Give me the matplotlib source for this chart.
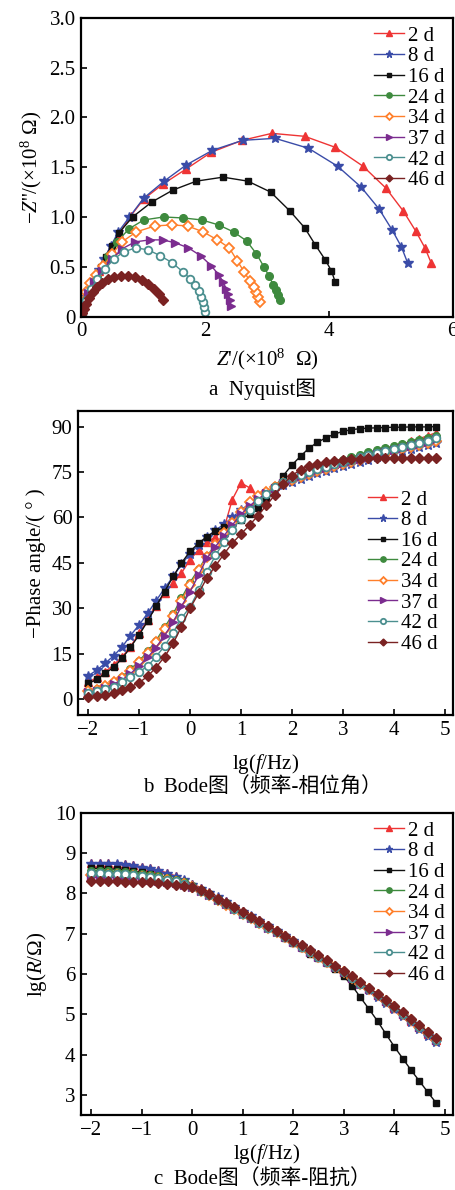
import matplotlib
matplotlib.use("Agg")
import matplotlib.pyplot as plt

plt.rcParams["font.family"] = ["Liberation Serif", "Noto Sans CJK SC"]
plt.rcParams["mathtext.fontset"] = "custom"
plt.rcParams["mathtext.rm"] = "Liberation Serif"
plt.rcParams["mathtext.it"] = "Liberation Serif:italic"
plt.rcParams["font.size"] = 15
plt.rcParams["axes.linewidth"] = 1.6

# 图例名称
labels = ["2 d", "8 d", "16 d", "24 d", "34 d", "37 d", "42 d", "46 d"]
colors = ["#ee3434", "#3a4ca8", "#111111", "#3e8a3e", "#ff7f2a", "#7b2c8f", "#4b8f8f", "#7a2222"]
markers = ["^", "*", "s", "o", "D", ">", "o", "D"]
open_face = [False, False, False, False, True, False, True, False]
msizes = [6, 7.5, 5, 5.5, 5, 6, 5.5, 5]

# ---- Nyquist 数据 (×10^8 Ω) ----
zre_2 = [5.65, 5.55, 5.40, 5.20, 4.92, 4.55, 4.10, 3.61, 3.08, 2.60, 2.10, 1.69, 1.32, 1.01, 0.80, 0.61, 0.48, 0.37, 0.28, 0.20, 0.14, 0.09, 0.05, 0.02, 0.005]
zim_2 = [0.54, 0.69, 0.86, 1.06, 1.29, 1.51, 1.70, 1.81, 1.84, 1.77, 1.65, 1.48, 1.33, 1.18, 1.01, 0.83, 0.69, 0.57, 0.46, 0.37, 0.28, 0.20, 0.12, 0.06, 0.02]
zre_8 = [5.27, 5.17, 5.02, 4.81, 4.52, 4.14, 3.67, 3.13, 2.61, 2.12, 1.69, 1.34, 1.01, 0.78, 0.60, 0.48, 0.37, 0.28, 0.20, 0.14, 0.09, 0.05, 0.02, 0.005]
zim_8 = [0.54, 0.70, 0.87, 1.08, 1.30, 1.51, 1.69, 1.79, 1.77, 1.67, 1.52, 1.36, 1.19, 1.00, 0.85, 0.71, 0.58, 0.47, 0.37, 0.28, 0.20, 0.12, 0.06, 0.02]
zre_16 = [4.10, 4.04, 3.94, 3.78, 3.61, 3.37, 3.06, 2.69, 2.29, 1.86, 1.48, 1.14, 0.83, 0.61, 0.49, 0.40, 0.32, 0.25, 0.18, 0.12, 0.08, 0.04, 0.02, 0.005]
zim_16 = [0.35, 0.46, 0.57, 0.72, 0.89, 1.06, 1.25, 1.36, 1.40, 1.36, 1.27, 1.15, 1.00, 0.84, 0.71, 0.60, 0.50, 0.41, 0.32, 0.24, 0.17, 0.10, 0.05, 0.02]
zre_24 = [3.21, 3.17, 3.14, 3.10, 3.03, 2.95, 2.83, 2.67, 2.46, 2.22, 1.95, 1.65, 1.33, 1.01, 0.77, 0.58, 0.44, 0.34, 0.25, 0.18, 0.12, 0.07, 0.03, 0.01]
zim_24 = [0.17, 0.22, 0.27, 0.32, 0.41, 0.50, 0.63, 0.76, 0.85, 0.92, 0.97, 0.99, 1.00, 0.97, 0.88, 0.75, 0.61, 0.50, 0.40, 0.31, 0.22, 0.14, 0.07, 0.02]
zre_34 = [2.88, 2.86, 2.82, 2.79, 2.72, 2.63, 2.52, 2.39, 2.20, 1.97, 1.72, 1.46, 1.19, 0.89, 0.66, 0.50, 0.36, 0.24, 0.14, 0.08, 0.04, 0.02, 0.005]
zim_34 = [0.15, 0.20, 0.25, 0.30, 0.36, 0.45, 0.56, 0.69, 0.77, 0.85, 0.91, 0.92, 0.91, 0.85, 0.75, 0.63, 0.51, 0.42, 0.34, 0.25, 0.16, 0.08, 0.02]
zre_37 = [2.42, 2.40, 2.37, 2.34, 2.29, 2.22, 2.10, 1.93, 1.73, 1.52, 1.32, 1.11, 0.87, 0.66, 0.50, 0.34, 0.20, 0.11, 0.05, 0.02, 0.005]
zim_37 = [0.11, 0.17, 0.23, 0.28, 0.35, 0.42, 0.51, 0.61, 0.69, 0.74, 0.77, 0.77, 0.75, 0.68, 0.58, 0.46, 0.35, 0.24, 0.14, 0.06, 0.02]
zre_42 = [2.00, 1.99, 1.97, 1.94, 1.90, 1.84, 1.76, 1.64, 1.47, 1.28, 1.08, 0.88, 0.69, 0.53, 0.39, 0.26, 0.16, 0.08, 0.03, 0.01]
zim_42 = [0.05, 0.10, 0.15, 0.20, 0.26, 0.32, 0.38, 0.45, 0.54, 0.61, 0.67, 0.69, 0.65, 0.58, 0.48, 0.38, 0.28, 0.17, 0.08, 0.02]
zre_46 = [1.32, 1.25, 1.17, 1.08, 0.98, 0.87, 0.75, 0.64, 0.53, 0.43, 0.34, 0.26, 0.19, 0.13, 0.08, 0.04, 0.015, 0.003]
zim_46 = [0.17, 0.23, 0.28, 0.33, 0.37, 0.40, 0.41, 0.41, 0.40, 0.38, 0.34, 0.30, 0.25, 0.19, 0.13, 0.08, 0.04, 0.01]

# ---- Bode 频率 lg(f/Hz) ----
lgf = [-2.00, -1.83, -1.67, -1.50, -1.33, -1.17, -1.00, -0.83, -0.67, -0.50, -0.33, -0.17,
       0.00, 0.17, 0.33, 0.50, 0.67, 0.83, 1.00, 1.17, 1.33, 1.50, 1.67, 1.83,
       2.00, 2.17, 2.33, 2.50, 2.67, 2.83, 3.00, 3.17, 3.33, 3.50, 3.67, 3.83,
       4.00, 4.17, 4.33, 4.50, 4.67, 4.83]

# 相位角
ph_2 = [5.5, 7.2, 9.0, 11.3, 14.0, 17.3, 21.7, 26.2, 30.6, 35.0, 38.3, 41.6, 46.0, 49.3, 52.0, 53.5, 56.5, 65.9, 71.4, 69.8, 66.5, 68.5, 70.5, 72.0,
        73.3, 74.3, 75.3, 76.2, 77.0, 77.8, 78.5, 79.2, 80.0, 80.8, 81.6, 82.4, 83.3, 84.2, 85.1, 86.0, 87.0, 88.0]
ph_8 = [7.7, 9.6, 11.8, 14.3, 17.3, 21.0, 24.5, 28.4, 32.4, 36.6, 40.5, 44.5, 48.0, 51.0, 53.5, 55.8, 57.8, 60.0, 62.5, 64.5, 66.3, 68.0, 69.5, 70.7,
        71.8, 72.8, 73.7, 74.6, 75.4, 76.2, 77.0, 77.7, 78.4, 79.1, 79.8, 80.5, 81.2, 81.9, 82.6, 83.3, 84.0, 84.7]
ph_16 = [5.2, 6.5, 8.5, 10.5, 13.5, 17.1, 21.2, 25.8, 30.6, 35.5, 40.5, 44.9, 48.8, 51.5, 53.7, 55.4, 56.8, 58.0, 59.3, 61.0, 63.0, 66.3, 70.0, 73.8,
         77.3, 80.2, 82.8, 84.8, 86.3, 87.5, 88.4, 89.0, 89.3, 89.5, 89.6, 89.7, 89.8, 89.8, 89.9, 89.9, 89.9, 90.0]
ph_24 = [2.8, 3.3, 4.5, 5.8, 7.4, 9.8, 12.6, 15.8, 19.3, 23.7, 28.2, 33.3, 38.5, 43.0, 47.2, 51.0, 54.5, 57.8, 61.0, 64.0, 66.5, 68.5, 70.3, 71.8,
         73.2, 74.4, 75.5, 76.5, 77.4, 78.3, 79.1, 79.9, 80.7, 81.5, 82.2, 82.9, 83.6, 84.3, 85.0, 85.7, 86.3, 87.0]
ph_34 = [2.6, 3.1, 4.2, 5.6, 7.1, 9.4, 12.2, 15.3, 18.8, 23.0, 27.5, 32.5, 37.8, 42.5, 47.0, 51.0, 54.7, 58.2, 61.8, 65.0, 67.0, 68.5, 70.0, 71.3,
         72.5, 73.5, 74.4, 75.3, 76.1, 76.9, 77.6, 78.3, 79.0, 79.7, 80.4, 81.1, 81.8, 82.5, 83.2, 83.9, 84.6, 85.3]
ph_37 = [2.2, 2.8, 3.8, 5.0, 6.4, 8.4, 11.0, 13.8, 17.0, 21.0, 25.5, 30.6, 35.5, 41.0, 46.5, 50.4, 54.0, 57.5, 61.0, 63.8, 66.0, 68.0, 69.8, 71.3,
         72.6, 73.7, 74.7, 75.6, 76.4, 77.2, 78.0, 78.7, 79.4, 80.1, 80.8, 81.5, 82.2, 82.9, 83.6, 84.3, 85.0, 85.8]
ph_42 = [2.0, 2.6, 3.2, 4.0, 5.7, 7.4, 9.0, 10.9, 14.0, 17.5, 22.0, 26.7, 30.4, 36.0, 42.0, 47.5, 52.0, 56.0, 59.5, 62.5, 65.3, 67.8, 70.0, 71.7,
         73.0, 74.1, 75.1, 76.0, 76.8, 77.6, 78.4, 79.1, 79.8, 80.5, 81.2, 81.9, 82.6, 83.3, 84.0, 84.7, 85.4, 86.2]
ph_46 = [0.6, 1.0, 1.3, 1.9, 3.0, 4.1, 5.4, 7.6, 10.4, 14.0, 18.4, 23.9, 30.0, 35.0, 40.0, 44.0, 48.0, 51.5, 54.5, 57.5, 60.5, 64.0, 67.5, 71.0,
         73.8, 75.8, 77.0, 77.8, 78.4, 78.8, 79.1, 79.3, 79.4, 79.5, 79.5, 79.5, 79.6, 79.6, 79.6, 79.6, 79.7, 79.7]

# 阻抗 lg(R/Ω)
lz_2 = [8.76, 8.76, 8.75, 8.74, 8.72, 8.70, 8.66, 8.62, 8.57, 8.51, 8.43, 8.34, 8.24, 8.14, 8.03, 7.92, 7.81, 7.69, 7.57, 7.45, 7.33, 7.21, 7.09, 6.97,
        6.84, 6.71, 6.58, 6.45, 6.32, 6.19, 6.05, 5.91, 5.77, 5.62, 5.47, 5.32, 5.16, 5.00, 4.84, 4.68, 4.52, 4.36]
lz_8 = [8.74, 8.74, 8.73, 8.72, 8.70, 8.67, 8.64, 8.60, 8.55, 8.49, 8.41, 8.32, 8.22, 8.12, 8.01, 7.90, 7.79, 7.67, 7.55, 7.43, 7.31, 7.19, 7.07, 6.95,
        6.82, 6.69, 6.56, 6.43, 6.30, 6.17, 6.03, 5.89, 5.74, 5.59, 5.44, 5.28, 5.12, 4.96, 4.80, 4.64, 4.47, 4.30]
lz_16 = [8.62, 8.62, 8.61, 8.60, 8.58, 8.55, 8.52, 8.48, 8.44, 8.39, 8.33, 8.26, 8.18, 8.08, 7.98, 7.87, 7.76, 7.64, 7.52, 7.40, 7.28, 7.16, 7.03, 6.90,
         6.77, 6.64, 6.50, 6.40, 6.26, 6.12, 5.95, 5.70, 5.42, 5.13, 4.83, 4.52, 4.20, 3.90, 3.62, 3.34, 3.06, 2.80]
lz_24 = [8.56, 8.56, 8.55, 8.54, 8.53, 8.51, 8.49, 8.46, 8.42, 8.38, 8.33, 8.27, 8.18, 8.07, 7.96, 7.85, 7.76, 7.63, 7.51, 7.39, 7.28, 7.16, 7.04, 6.92,
         6.80, 6.68, 6.56, 6.43, 6.31, 6.18, 6.05, 5.91, 5.77, 5.63, 5.48, 5.33, 5.18, 5.02, 4.86, 4.70, 4.54, 4.38]
lz_34 = [8.46, 8.46, 8.45, 8.45, 8.44, 8.43, 8.41, 8.39, 8.36, 8.33, 8.29, 8.24, 8.17, 8.06, 7.95, 7.84, 7.72, 7.61, 7.50, 7.38, 7.27, 7.15, 7.03, 6.91,
         6.79, 6.67, 6.55, 6.42, 6.30, 6.17, 6.04, 5.90, 5.76, 5.62, 5.47, 5.32, 5.17, 5.01, 4.85, 4.69, 4.53, 4.37]
lz_37 = [8.40, 8.40, 8.40, 8.39, 8.38, 8.37, 8.36, 8.34, 8.31, 8.28, 8.25, 8.21, 8.16, 8.06, 7.95, 7.84, 7.73, 7.61, 7.50, 7.38, 7.27, 7.15, 7.03, 6.91,
         6.79, 6.67, 6.55, 6.42, 6.30, 6.17, 6.04, 5.90, 5.76, 5.62, 5.47, 5.32, 5.17, 5.01, 4.85, 4.69, 4.53, 4.36]
lz_42 = [8.50, 8.50, 8.49, 8.48, 8.47, 8.45, 8.43, 8.41, 8.38, 8.34, 8.30, 8.24, 8.17, 8.06, 7.95, 7.84, 7.73, 7.61, 7.50, 7.38, 7.27, 7.15, 7.03, 6.91,
         6.79, 6.67, 6.55, 6.42, 6.30, 6.17, 6.04, 5.90, 5.76, 5.62, 5.47, 5.32, 5.17, 5.01, 4.85, 4.69, 4.53, 4.37]
lz_46 = [8.30, 8.30, 8.30, 8.30, 8.29, 8.29, 8.28, 8.27, 8.25, 8.23, 8.21, 8.18, 8.15, 8.08, 7.98, 7.87, 7.76, 7.65, 7.54, 7.42, 7.31, 7.19, 7.07, 6.95,
         6.83, 6.71, 6.59, 6.46, 6.34, 6.21, 6.08, 5.94, 5.80, 5.66, 5.51, 5.36, 5.21, 5.05, 4.89, 4.73, 4.57, 4.40]

nyq_x = [zre_2, zre_8, zre_16, zre_24, zre_34, zre_37, zre_42, zre_46]
nyq_y = [zim_2, zim_8, zim_16, zim_24, zim_34, zim_37, zim_42, zim_46]
phase = [ph_2, ph_8, ph_16, ph_24, ph_34, ph_37, ph_42, ph_46]
lgz = [lz_2, lz_8, lz_16, lz_24, lz_34, lz_37, lz_42, lz_46]


def style(i):
    kw = dict(color=colors[i], marker=markers[i], ms=msizes[i], lw=1.0,
              mec=colors[i], label=labels[i])
    if open_face[i]:
        kw["mfc"] = "white"
        kw["mew"] = 1.3
    else:
        kw["mfc"] = colors[i]
    return kw


def fmt_axes(ax):
    ax.tick_params(direction="in", length=4, width=1.2, top=False, right=False, labelsize=15, pad=4)
    for s in ax.spines.values():
        s.set_linewidth(1.6)


def add_legend(ax, **kw):
    ax.legend(frameon=False, fontsize=15, handlelength=1.4, handletextpad=0.2,
              labelspacing=0.05, markerscale=0.7, borderpad=0.2, **kw)


fig = plt.figure(figsize=(4.56, 11.9), dpi=100)

# a Nyquist
ax1 = fig.add_axes([0.178, 0.734, 0.815, 0.251])
for i in range(8):
    ax1.plot(nyq_x[i], nyq_y[i], **style(i))
ax1.set_xlim(0, 6)
ax1.set_ylim(0, 3)
ax1.set_xticks([0, 2, 4, 6])
ax1.set_yticks([0, 0.5, 1.0, 1.5, 2.0, 2.5, 3.0])
ax1.set_yticklabels(["0", "0.5", "1.0", "1.5", "2.0", "2.5", "3.0"])
ax1.set_xlabel(r"$Z$'/(×10$^{8}$  Ω)", labelpad=4)
ax1.set_ylabel(r"−$Z$''/(×10$^{8}$ Ω)", labelpad=4)
fmt_axes(ax1)
add_legend(ax1, loc="upper right", borderaxespad=0.2)
fig.text(0.575, 1 - 389 / 1190, "a  Nyquist图", ha="center", va="center", fontsize=15)

# b Bode phase
ax2 = fig.add_axes([0.171, 0.399, 0.822, 0.256])
for i in range(8):
    ax2.plot(lgf, phase[i], **style(i))
ax2.set_xlim(-2.2, 5.16)
ax2.set_ylim(-5.3, 95.3)
ax2.set_xticks(range(-2, 6))
ax2.set_xticklabels(["−2", "−1", "0", "1", "2", "3", "4", "5"])
ax2.set_yticks(range(0, 91, 15))
ax2.set_xlabel(r"lg($f$/Hz)", labelpad=9)
ax2.set_ylabel("−Phase angle/( ° )", labelpad=4)
fmt_axes(ax2)
add_legend(ax2, loc="center right", bbox_to_anchor=(1.0, 0.47))
fig.text(0.575, 1 - 788 / 1190, "b  Bode图（频率-相位角）", ha="center", va="center", fontsize=15)

# c Bode impedance
ax3 = fig.add_axes([0.178, 0.063, 0.815, 0.254])
for i in range(8):
    ax3.plot(lgf, lgz[i], **style(i))
ax3.set_xlim(-2.2, 5.16)
ax3.set_ylim(2.5, 10)
ax3.set_xticks(range(-2, 6))
ax3.set_xticklabels(["−2", "−1", "0", "1", "2", "3", "4", "5"])
ax3.set_yticks(range(3, 11))
ax3.set_xlabel(r"lg($f$/Hz)", labelpad=2)
ax3.set_ylabel(r"lg($R$/Ω)", labelpad=4)
fmt_axes(ax3)
add_legend(ax3, loc="upper right", borderaxespad=0.2)
fig.text(0.575, 1 - 1180 / 1190, "c  Bode图（频率-阻抗）", ha="center", va="center", fontsize=15)

fig.savefig("out.png", dpi=100)
